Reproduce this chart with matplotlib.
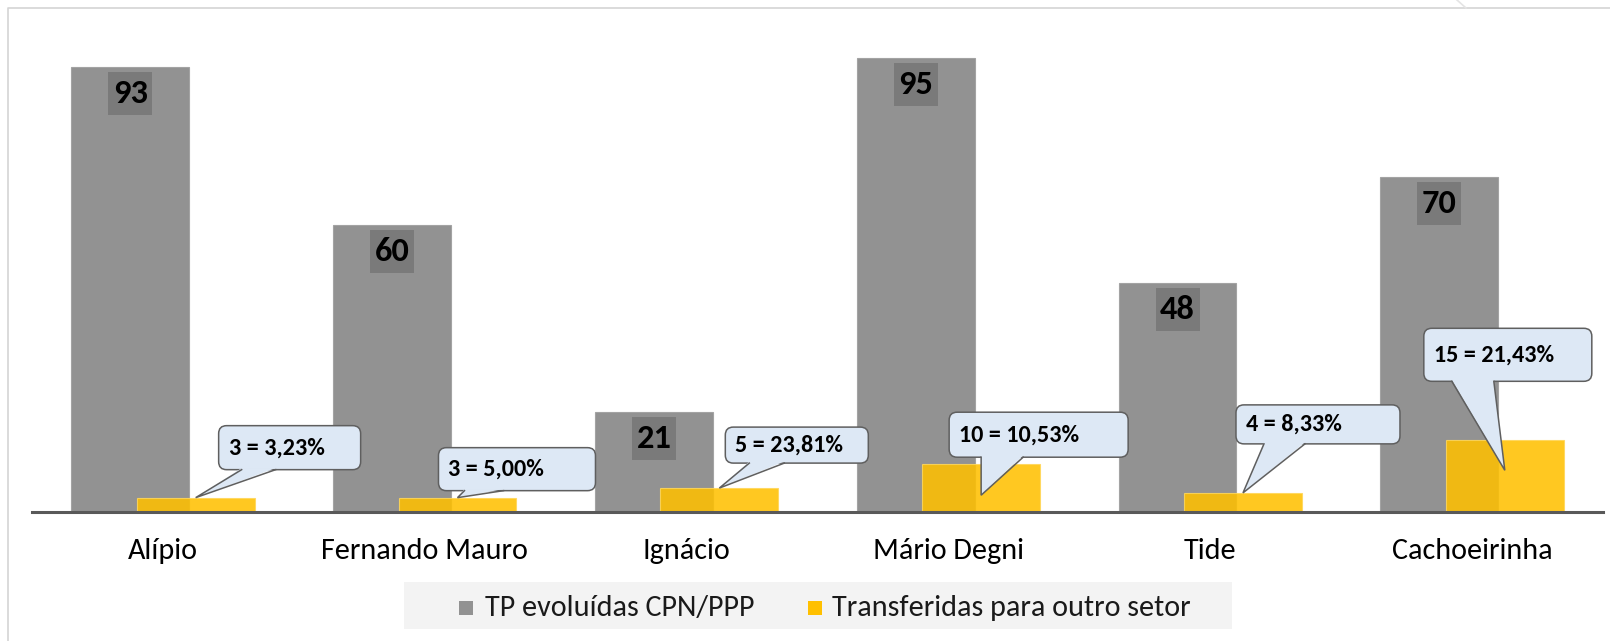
import matplotlib
matplotlib.use('Agg')
import matplotlib.pyplot as plt
from matplotlib import font_manager
from matplotlib.font_manager import FontProperties
from matplotlib.patches import Rectangle, FancyBboxPatch, Polygon
from matplotlib.lines import Line2D
from matplotlib.transforms import IdentityTransform
from matplotlib.textpath import TextPath
import numpy as np

# ---------------- data ----------------
categories = ['Alípio', 'Fernando Mauro', 'Ignácio', 'Mário Degni', 'Tide', 'Cachoeirinha']
evoluidas = [93, 60, 21, 95, 48, 70]
transferidas = [3, 3, 5, 10, 4, 15]
pct_labels = ['3,23%', '5,00%', '23,81%', '10,53%', '8,33%', '21,43%']
series_names = ['TP evoluídas CPN/PPP', 'Transferidas para outro setor']

# ---------------- style ----------------
GREY = '#929292'
GREY_LABEL = '#7a7a7a'
GOLD = '#FFC000'
CALLOUT_FC = '#dde8f5'
CALLOUT_EC = '#5f5f5f'

W, H, DPI = 1610, 641, 100

avail = {f.name for f in font_manager.fontManager.ttflist}
FONT = 'DejaVu Sans'
for fam in ['Carlito', 'Lato', 'Open Sans', 'Noto Sans']:
    if fam in avail:
        FONT = fam
        break
plt.rcParams['font.family'] = [FONT, 'DejaVu Sans']


def fit_size(text, target_px, weight='normal'):
    fp = FontProperties(family=[FONT, 'DejaVu Sans'], weight=weight)
    ext = TextPath((0, 0), text, size=100, prop=fp).get_extents()
    return target_px * 0.72 * 100 / ext.width


SZ_CAT = fit_size('Fernando Mauro', 203)
SZ_LEG = fit_size('Transferidas para outro setor', 357)
SZ_BAR = fit_size('93', 32, 'bold')
SZ_CALL = fit_size('15 = 21,43%', 118, 'bold')

fig = plt.figure(figsize=(W / DPI, H / DPI), dpi=DPI)
fig.patch.set_facecolor('white')

# axes: baseline at y=512px (from top), left 32, right 1603
ax_left, ax_right = 32, 1603
base_y = 512
top_y = 12
px_per_unit = 4.78
ax = fig.add_axes([ax_left / W, (H - base_y) / H, (ax_right - ax_left) / W, (base_y - top_y) / H])
ax.set_xlim(-0.5, len(categories) - 0.5)
ax.set_ylim(0, (base_y - top_y) / px_per_unit)
ax.set_facecolor('none')

x = np.arange(len(categories))
off, bw = 0.125, 0.45
ax.bar(x - off, evoluidas, bw, color=GREY, edgecolor='#a3a3a3', linewidth=0.8, zorder=2)
ax.bar(x + off, transferidas, bw, color=GOLD, alpha=0.87, edgecolor='#ffd75a', linewidth=0.8, zorder=3)

for s in ['top', 'left', 'right']:
    ax.spines[s].set_visible(False)
ax.spines['bottom'].set_color('#595959')
ax.spines['bottom'].set_linewidth(2.2)
ax.spines['bottom'].set_zorder(4)
ax.set_xticks([])
ax.set_yticks([])

ID = IdentityTransform()

# category labels
for i, c in enumerate(categories):
    cx, _ = ax.transData.transform((x[i], 0))
    fig.text(cx, H - 551, c, transform=ID, ha='center', va='center',
             fontsize=SZ_CAT, color='black')

# grey data labels (dark box at top of bar)
for i, v in enumerate(evoluidas):
    cx, cy = ax.transData.transform((x[i] - off, v))
    bwid, bhei = 44, 43
    rect = Rectangle((cx - bwid / 2, cy - 5 - bhei), bwid, bhei, transform=ID,
                     facecolor=GREY_LABEL, edgecolor='none', zorder=6)
    fig.add_artist(rect)
    fig.text(cx, cy - 5 - bhei / 2, str(v), transform=ID, ha='center', va='center',
             fontsize=SZ_BAR, fontweight='bold', color='black', zorder=7)

# callouts for yellow bars: (tip dx, tip dy), (box left, right, top, bottom), (base b0, b1) in px rel. to bar top
callout_layout = [
    dict(tip=(0, 0), box=(23, 165, 72, 28), base=(46, 80)),
    dict(tip=(0, 0), box=(-19, 138, 50, 7), base=(7, 46)),
    dict(tip=(0, 0), box=(6, 149, 61, 25), base=(30, 65)),
    dict(tip=(0, -31), box=(-32, 147, 52, 7), base=(0, 42)),
    dict(tip=(0, 0), box=(-7, 157, 88, 49), base=(21, 62)),
    dict(tip=(0, -30), box=(-81, 87, 112, 59), base=(-53, -11)),
]

for i, v in enumerate(transferidas):
    L = callout_layout[i]
    ax_, ay_ = ax.transData.transform((x[i] + off, v))
    tx, ty = ax_ + L['tip'][0], ay_ + L['tip'][1]
    bx0, bx1 = ax_ + L['box'][0], ax_ + L['box'][1]
    btop, bbot = ay_ + L['box'][2], ay_ + L['box'][3]
    b0, b1 = ax_ + L['base'][0], ax_ + L['base'][1]
    box = FancyBboxPatch((bx0, bbot), bx1 - bx0, btop - bbot,
                         boxstyle='round,pad=0,rounding_size=8', transform=ID,
                         facecolor=CALLOUT_FC, edgecolor=CALLOUT_EC, linewidth=1.1, zorder=8)
    fig.add_artist(box)
    tri = Polygon([(b0, bbot + 1.6), (b1, bbot + 1.6), (tx, ty)], closed=True, transform=ID,
                  facecolor=CALLOUT_FC, edgecolor='none', zorder=9)
    fig.add_artist(tri)
    fig.add_artist(Line2D([b0, tx, b1], [bbot, ty, bbot], transform=ID, color=CALLOUT_EC,
                          linewidth=1.1, zorder=10, solid_joinstyle='miter'))
    fig.text(bx0 + 10, (btop + bbot) / 2, f'{v} = {pct_labels[i]}', transform=ID,
             ha='left', va='center', fontsize=SZ_CALL, fontweight='bold', color='black', zorder=11)

# legend
fig.add_artist(Rectangle((404, H - 629), 1232 - 404, 629 - 582, transform=ID,
                         facecolor='#f3f3f3', edgecolor='none', zorder=1))
leg_y = H - 608
for mx, tx_, col, name in [(459, 485, GREY, series_names[0]), (808, 832, GOLD, series_names[1])]:
    fig.add_artist(Rectangle((mx, leg_y - 7), 14, 14, transform=ID, facecolor=col,
                             edgecolor='none', zorder=2))
    fig.text(tx_, leg_y, name, transform=ID, ha='left', va='center', fontsize=SZ_LEG,
             color='#1a1a1a', zorder=3)

# chart frame
fig.add_artist(Line2D([8, 8, W], [0, H - 8, H - 8], transform=ID, color='#d4d4d4', linewidth=1.2, zorder=0))
fig.add_artist(Line2D([1457, 1466], [H, H - 8], transform=ID, color='#e4e4e4', linewidth=1.2, zorder=0))

fig.savefig('out.png', dpi=DPI, facecolor='white')
